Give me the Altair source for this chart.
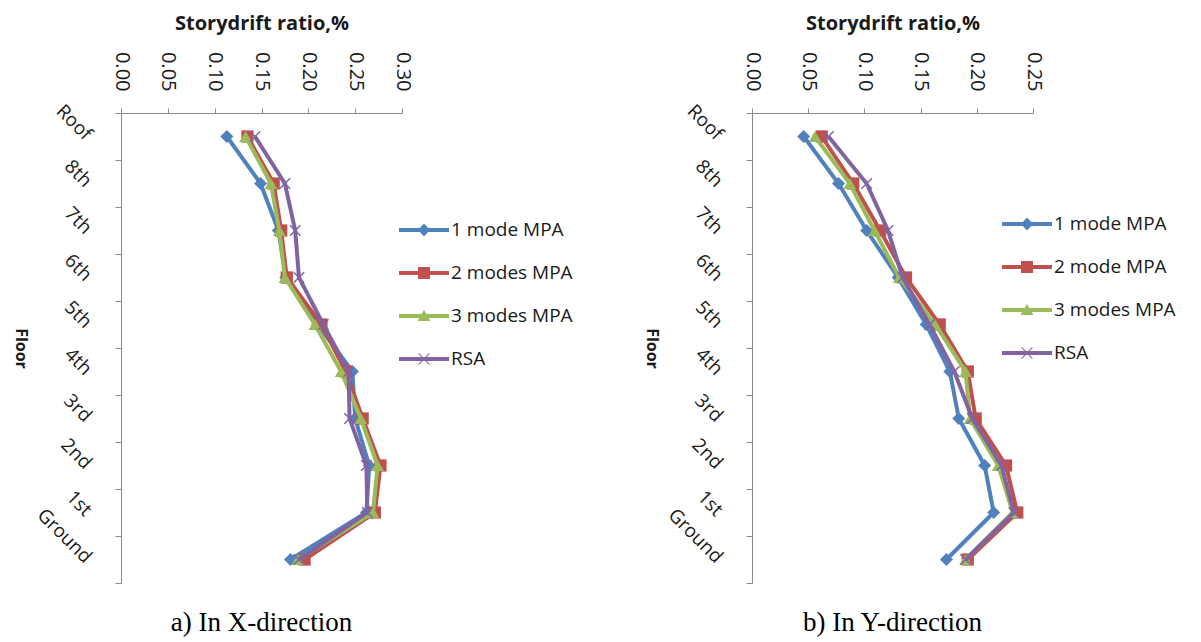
import altair as alt
import pandas as pd

floors = ["Roof", "8th", "7th", "6th", "5th", "4th", "3rd", "2nd", "1st", "Ground"]

# Storey drift ratio (%) in the X direction
x_mpa1 = [0.113, 0.149, 0.168, 0.176, 0.210, 0.247, 0.250, 0.265, 0.262, 0.181]
x_mpa2 = [0.135, 0.163, 0.171, 0.177, 0.214, 0.240, 0.258, 0.277, 0.271, 0.196]
x_mpa3 = [0.133, 0.160, 0.169, 0.175, 0.207, 0.235, 0.256, 0.274, 0.269, 0.189]
x_rsa = [0.143, 0.175, 0.186, 0.190, 0.216, 0.243, 0.244, 0.262, 0.263, 0.190]

# Storey drift ratio (%) in the Y direction
y_mpa1 = [0.046, 0.077, 0.102, 0.130, 0.155, 0.176, 0.184, 0.207, 0.215, 0.173]
y_mpa2 = [0.062, 0.090, 0.114, 0.137, 0.167, 0.192, 0.199, 0.226, 0.236, 0.192]
y_mpa3 = [0.056, 0.087, 0.109, 0.131, 0.163, 0.190, 0.194, 0.219, 0.232, 0.190]
y_rsa = [0.068, 0.102, 0.121, 0.134, 0.158, 0.180, 0.196, 0.222, 0.233, 0.190]

names_x = ["1 mode MPA", "2 modes MPA", "3 modes MPA", "RSA"]
names_y = ["1 mode MPA", "2 mode MPA", "3 modes MPA", "RSA"]
ticks_x = [0.00, 0.05, 0.10, 0.15, 0.20, 0.25, 0.30]
ticks_y = [0.00, 0.05, 0.10, 0.15, 0.20, 0.25]

palette = ["#4F81BD", "#C0504D", "#9BBB59", "#8064A2"]

X_MARK = "M-1,-1L1,1M-1,1L1,-1"
marker_style = [
    dict(shape="diamond", filled=True, size=170),
    dict(shape="square", filled=True, size=150),
    dict(shape="triangle-up", filled=True, size=160),
    dict(shape=X_MARK, filled=False, size=110, strokeWidth=1.5),
]

# legend glyphs: a thick line segment with the series marker in the middle
BAR = "M-1,-0.08H1V0.08H-1Z"
legend_glyphs = [
    BAR + "M0,-0.26L0.24,0L0,0.26L-0.24,0Z",
    BAR + "M-0.24,-0.24H0.24V0.24H-0.24Z",
    BAR + "M0,-0.24L0.26,0.2H-0.26Z",
    BAR + "M-0.2,-0.24L0,-0.03L0.2,-0.24L0.23,-0.21L0.03,0L0.23,0.21L0.2,0.24L0,0.03L-0.2,0.24L-0.23,0.21L-0.03,0L-0.23,-0.21Z",
]

FONT = "Open Sans"
TEXT = "#1a1a1a"
AXIS = "#8a8a8a"


def long_table(names, columns):
    rows = []
    for name, vals in zip(names, columns):
        for i, (fl, v) in enumerate(zip(floors, vals)):
            rows.append({"series": name, "floor": fl, "idx": i, "drift": v})
    return pd.DataFrame(rows)


def panel(df, names, xmax, ticks, caption, leg_x, leg_y):
    x = alt.X(
        "drift:Q",
        scale=alt.Scale(domain=[0, xmax], nice=False, zero=True),
        axis=alt.Axis(
            orient="top", values=ticks, format=".2f", grid=False,
            labelAngle=90, labelAlign="right", labelBaseline="middle",
            labelFont=FONT, labelFontSize=20, labelColor=TEXT, labelPadding=17,
            tickSize=5, tickColor=AXIS, domainColor=AXIS,
            title="Storydrift ratio,%", titleFont=FONT, titleFontSize=20,
            titleFontWeight="bold", titleColor=TEXT, titlePadding=18,
        ),
    )
    y = alt.Y(
        "floor:N",
        sort=floors,
        scale=alt.Scale(type="band", domain=floors, paddingInner=0, paddingOuter=0),
        axis=alt.Axis(
            tickBand="extent", tickSize=6, tickColor=AXIS, domainColor=AXIS,
            labelAngle=45, labelAlign="right", labelBaseline="middle",
            labelFont=FONT, labelFontSize=19, labelColor=TEXT, labelPadding=27,
            title="Floor", titleAngle=90, titleFont=FONT, titleFontSize=16,
            titleFontWeight="bold", titleColor=TEXT, titlePadding=20,
        ),
    )
    base = alt.Chart(df)
    layers = []
    for name, colour, style in zip(names, palette, marker_style):
        sub = base.transform_filter(alt.datum.series == name)
        layers.append(
            sub.mark_line(strokeWidth=4, color=colour).encode(x=x, y=y, order="idx:Q")
        )
        layers.append(
            sub.mark_point(opacity=1, color=colour, **style).encode(x=x, y=y)
        )
    leg = dict(
        title=None, orient="none", legendX=leg_x, legendY=leg_y,
        symbolSize=2500, labelFont=FONT, labelFontSize=19, labelColor=TEXT,
        labelOffset=2, rowPadding=8, padding=0, symbolStrokeWidth=0,
    )
    carrier = base.transform_filter("false").mark_point(filled=True, opacity=1).encode(
        x=x, y=y,
        color=alt.Color("series:N", scale=alt.Scale(domain=names, range=palette),
                        legend=alt.Legend(**leg)),
        shape=alt.Shape("series:N", scale=alt.Scale(domain=names, range=legend_glyphs),
                        legend=alt.Legend(**leg)),
    )
    layers.append(carrier)
    return alt.layer(*layers).properties(
        width=281, height=470,
        title=alt.TitleParams(
            caption, orient="bottom", anchor="middle", font="Liberation Serif",
            fontSize=27, fontWeight="normal", color="#000000", offset=26,
        ),
    )


df_x = long_table(names_x, [x_mpa1, x_mpa2, x_mpa3, x_rsa])
df_y = long_table(names_y, [y_mpa1, y_mpa2, y_mpa3, y_rsa])

left = panel(df_x, names_x, 0.30, ticks_x, "a) In X-direction", 278, 92)
right = panel(df_y, names_y, 0.25, ticks_y, "b) In Y-direction", 250, 86)

chart = (
    alt.hconcat(left, right, spacing=70)
    .resolve_scale(color="independent", shape="independent")
    .resolve_legend(color="independent", shape="independent")
    .properties(padding={"left": 12, "top": 13, "right": 5, "bottom": 5}, background="white")
    .configure_view(stroke=None)
)

chart.save("out.html", embed_options={"renderer": "svg", "actions": False})
